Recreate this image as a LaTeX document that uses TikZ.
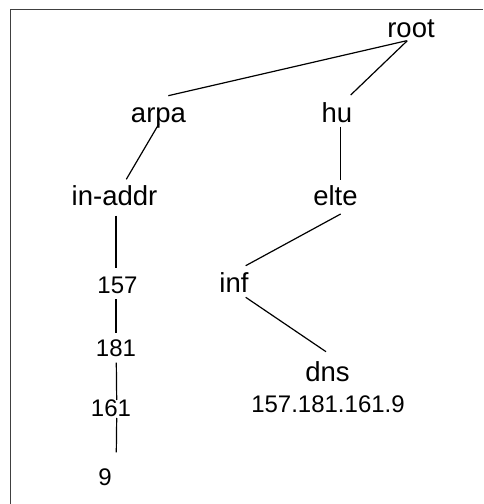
\documentclass[tikz,border=0pt]{standalone}
\usepackage{fontspec}
\setmainfont{Liberation Sans}
\usepackage{tikz}

\tikzset{
  word/.style={font=\fontsize{27.5}{33}\selectfont, inner sep=0pt, anchor=base},
  num/.style={font=\fontsize{24}{29}\selectfont, inner sep=0pt, anchor=base},
  edge/.style={line width=1.2pt, black}
}

\begin{document}
\begin{tikzpicture}[x=1pt,y=1pt]
\useasboundingbox (0,0) rectangle (483,504);
% frame, cut at the right and bottom edges
\draw[line width=1.4pt, black!75] (10.5,0) -- (10.5,494.3) -- (483,494.3);

\node[word] (root) at (411,466.5) {root};
\node[word] (arpa) at (158.5,381.5) {arpa};
\node[word] (hu) at (337,381.5) {hu};
\node[word] (inaddr) at (114.5,298.3) {in-addr};
\node[word] (elte) at (335.5,298) {elte};
\node[num] (n157) at (117.5,210.7) {157};
\node[word] (inf) at (234,211.3) {inf};
\node[num] (n181) at (116,147.3) {181};
\node[word] (dns) at (327.5,122.3) {dns};
\node[num] (dnsip) at (328,91.3) {157.181.161.9};
\node[num] (n161) at (111,87.3) {161};
\node[num] (n9) at (105,19) {9};

\draw[edge] ([shift={(-4.3,-3.2)}]root.base) -- ([shift={(9.8,26.8)}]arpa.base);
\draw[edge] ([shift={(-3.7,-3.2)}]root.base) -- ([shift={(13.7,27.5)}]hu.base);
\draw[edge] ([shift={(0.5,-1.2)}]arpa.base) -- ([shift={(11.8,26.4)}]inaddr.base);
\draw[edge] ([shift={(3.7,-4.2)}]hu.base) -- ([shift={(5.2,26)}]elte.base);
\draw[edge] ([shift={(1.5,-10)}]inaddr.base) -- ([shift={(-1.5,25)}]n157.base);
\draw[edge] ([shift={(5.2,-8)}]elte.base) -- ([shift={(11.7,27)}]inf.base);
\draw[edge] ([shift={(11.7,-4.6)}]inf.base) -- ([shift={(-1.5,30)}]dns.base);
\draw[edge] ([shift={(-1.5,-6)}]n157.base) -- ([shift={(0,23.4)}]n181.base);
\draw[edge] ([shift={(0.3,-6)}]n181.base) -- ([shift={(5.7,16.7)}]n161.base);
\draw[edge] ([shift={(5.7,-1.3)}]n161.base) -- ([shift={(11.3,32.7)}]n9.base);
\end{tikzpicture}
\end{document}
